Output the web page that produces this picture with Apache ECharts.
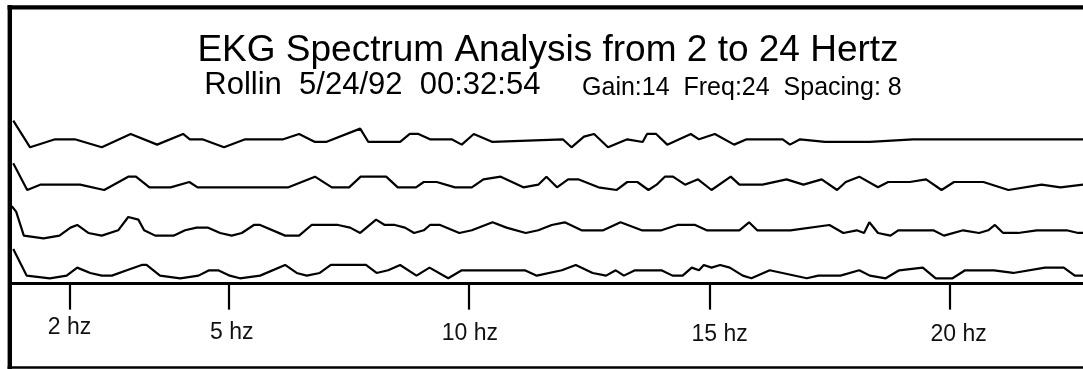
<!DOCTYPE html>
<html>
<head>
<meta charset="utf-8">
<script src="https://cdn.jsdelivr.net/npm/echarts@6/dist/echarts.min.js"></script>
<style>
html, body { margin: 0; padding: 0; background: #fff; }
#ekg { width: 1083px; height: 369px; }
</style>
</head>
<body>
<div id="ekg"></div>
<script>
var titleText = 'EKG Spectrum Analysis from 2 to 24 Hertz';
var subHead = 'Rollin  5/24/92  00:32:54';
var subInfo = 'Gain:14  Freq:24  Spacing: 8';

var tickValues = [1.7, 5, 10, 15, 20];
var tickLabels = ['2 hz', '5 hz', '10 hz', '15 hz', '20 hz'];

// [hz, level] corners of each trace, top trace first
var trace1 = [[0.53,10],[0.88,0],[1.40,3],[1.81,3],[2.37,0],[2.97,5],[3.52,1],[4.06,5],[4.20,3],[4.46,3],[4.91,0],[5.35,3],
  [6.14,3],[6.47,5],[6.80,2],[7.03,2],[7.74,7],[7.91,2],[8.57,2],[8.77,5],[8.95,5],[9.19,3],[9.64,3],[9.85,1],[10.10,5],[10.49,2],
  [11.95,3],[12.13,0],[12.39,4],[12.60,5],[12.89,0],[13.29,3],[13.61,2],[13.70,5],[13.89,5],[14.12,1],[14.61,5],[14.78,3],[15.11,5],
  [15.51,1],[15.77,3],[16.52,3],[16.67,1],[16.88,3],[17.40,2],[18.33,2],[19.23,3],[22.76,3]];

var trace2 = [[0.53,10],[0.82,0],[1.09,2],[1.92,2],[2.42,0],[2.92,5],[3.08,5],[3.36,1],[3.80,1],[4.19,3],[4.36,1],
  [6.25,1],[6.80,5],[7.15,1],[7.51,1],[7.75,5],[8.28,5],[8.52,1],[8.90,1],[9.06,3],[9.33,3],[9.71,1],[10.06,1],[10.30,4],[10.66,5],
  [11.13,1],[11.44,2],[11.61,5],[11.83,1],[12.06,4],[12.27,4],[12.69,1],[13.07,0],[13.29,3],[13.50,3],[13.73,0],[13.90,2],[14.07,5],
  [14.24,5],[14.49,2],[14.76,4],[15.04,0],[15.44,5],[15.62,2],[16.10,2],[16.60,4],[16.95,2],[17.33,4],[17.65,0],[17.83,3],[18.11,5],
  [18.50,1],[18.71,3],[19.16,3],[19.50,4],[19.82,0],[20.08,3],[20.69,3],[21.21,0],[21.90,2],[22.29,1],[22.76,2]];

var trace3 = [[0.50,12],[0.59,10],[0.75,1],[1.16,0],[1.49,1],[1.72,4],[1.86,5],[2.09,2],[2.37,1],[2.71,3],[2.92,8],[3.13,7],
  [3.25,3],[3.48,1],[3.86,1],[4.10,3],[4.34,4],[4.58,4],[4.83,2],[5.07,1],[5.28,2],[5.53,5],[5.66,5],[6.18,1],[6.47,1],[6.73,5],
  [7.28,5],[7.53,4],[7.74,2],[8.07,7],[8.25,5],[8.46,5],[8.67,4],[8.86,2],[9.06,3],[9.19,5],[9.40,5],[9.80,2],[10.06,3],[10.49,6],
  [10.78,4],[11.18,2],[11.44,3],[11.72,5],[11.99,6],[12.34,3],[12.79,3],[13.15,6],[13.59,3],[14.00,3],[14.33,5],[14.70,5],[14.94,3],
  [15.62,3],[15.82,6],[15.99,3],[16.68,3],[17.49,5],[17.78,2],[18.06,3],[18.21,2],[18.32,6],[18.50,2],[18.76,1],[18.92,3],[19.65,3],
  [19.87,1],[20.27,3],[20.60,2],[20.79,3],[20.93,5],[21.10,2],[21.41,2],[21.80,3],[22.42,3],[22.66,2],[22.76,2]];

var trace4 = [[0.53,11],[0.81,1],[1.29,0],[1.64,1],[1.86,4],[2.13,2],[2.37,1],[2.58,1],[2.89,3],[3.20,5],[3.30,5],[3.58,1],
  [4.00,0],[4.38,1],[4.60,3],[4.79,3],[5.03,1],[5.24,0],[5.66,1],[6.18,5],[6.42,2],[6.63,1],[6.90,2],[7.13,5],[7.86,5],[8.08,2],
  [8.32,3],[8.57,5],[8.91,1],[9.18,4],[9.57,0],[9.85,3],[11.16,3],[11.41,1],[11.93,3],[12.22,5],[12.57,2],[12.85,1],[13.05,3],
  [13.22,1],[13.45,3],[14.00,3],[14.23,1],[14.44,1],[14.63,4],[14.78,3],[14.88,5],[15.04,4],[15.22,5],[15.42,4],[15.69,1],[15.87,0],
  [16.25,3],[17.02,0],[17.26,1],[17.72,1],[18.11,3],[18.33,1],[18.66,0],[18.94,3],[19.43,4],[19.70,0],[20.05,0],[20.31,3],[20.91,3],
  [21.31,2],[21.97,4],[22.36,4],[22.59,1],[22.76,1]];

var traces = [trace1, trace2, trace3, trace4];
var stripTops = [115.3, 158, 206.3, 246.3];

var myChart = echarts.init(document.getElementById('ekg'));

var font = 'Liberation Sans';
var labelRich = {
    t0: { fontFamily: font, fontSize: 23, color: '#111', padding: [0, 0, 0, 0] },
    t1: { fontFamily: font, fontSize: 23, color: '#111', padding: [5, 0, 0, 7] },
    t2: { fontFamily: font, fontSize: 23, color: '#111', padding: [6, 0, 0, 2] },
    t3: { fontFamily: font, fontSize: 23, color: '#111', padding: [7, 0, 0, 20] },
    t4: { fontFamily: font, fontSize: 23, color: '#111', padding: [7, 0, 0, 17] }
};

var grids = [], xAxes = [], yAxes = [], series = [];
for (var i = 0; i < traces.length; i++) {
    var last = i === traces.length - 1;
    grids.push({ left: 11.8, right: 0, top: stripTops[i], height: 37.33 });
    yAxes.push({ type: 'value', gridIndex: i, min: -2, max: 12, show: false });
    xAxes.push({
        type: 'value', gridIndex: i, min: 0.5, max: 22.76,
        show: last,
        splitLine: { show: false },
        axisLine: { show: true, onZero: false, lineStyle: { color: '#000', width: 3 } },
        axisTick: { show: true, customValues: tickValues, length: 26, lineStyle: { color: '#000', width: 2.2 } },
        axisLabel: {
            show: true,
            customValues: tickValues,
            margin: 33,
            verticalAlign: 'top',
            formatter: function (v) {
                var k = tickValues.indexOf(v);
                return '{t' + k + '|' + tickLabels[k] + '}';
            },
            rich: labelRich
        }
    });
    series.push({
        type: 'line',
        xAxisIndex: i,
        yAxisIndex: i,
        data: traces[i],
        symbol: 'none',
        clip: false,
        lineStyle: { color: '#000', width: 2.2 }
    });
}

option = {
    backgroundColor: '#fff',
    animation: false,
    title: [
        {
            text: titleText,
            left: 548, top: 32, padding: 0,
            textAlign: 'center',
            textStyle: { fontFamily: font, fontSize: 37, fontWeight: 'normal', color: '#000' }
        },
        {
            text: '{a|' + subHead + '}{b|      ' + subInfo + '}',
            left: 553, top: 70, padding: 0,
            textAlign: 'center',
            textStyle: {
                fontWeight: 'normal',
                rich: {
                    a: { fontFamily: font, fontSize: 31, fontWeight: 'normal', color: '#000', verticalAlign: 'bottom' },
                    b: { fontFamily: font, fontSize: 25, fontWeight: 'normal', color: '#000', verticalAlign: 'bottom' }
                }
            }
        }
    ],
    grid: grids,
    xAxis: xAxes,
    yAxis: yAxes,
    series: series,
    graphic: [
        { type: 'line', shape: { x1: 9.8, y1: 5, x2: 9.8, y2: 369 }, style: { stroke: '#000', lineWidth: 4.4 } },
        { type: 'line', shape: { x1: 7.6, y1: 7.4, x2: 1083, y2: 7.4 }, style: { stroke: '#000', lineWidth: 4.4 } },
        { type: 'line', shape: { x1: 7.6, y1: 367.5, x2: 1083, y2: 367.5 }, style: { stroke: '#000', lineWidth: 2.5 } }
    ]
};

myChart.setOption(option);
</script>
</body>
</html>
